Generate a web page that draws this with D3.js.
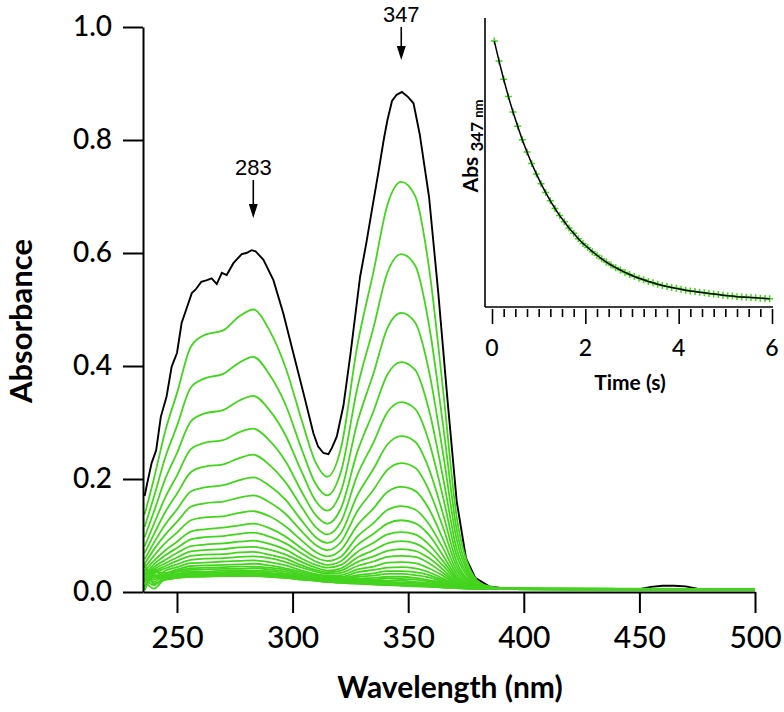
<!DOCTYPE html>
<html><head><meta charset="utf-8">
<script src="https://cdn.jsdelivr.net/npm/d3@7"></script>
<style>body{margin:0;background:#fff}svg{display:block}</style>
</head><body><svg id="c" width="784" height="712"></svg>
<script>
// ---------- main spectra data ----------
const blackWl  = [236,237,239,241,243,245.5,247.7,250,252,254,256.4,258,260.5,263,265,267.2,269.4,271.5,274.4,278,280,282.3,284,287.4,291.7,296,300.3,304.7,309,311,313.3,315.5,317,319.1,322,325,329.2,332,334.3,337,339.4,341,343,345,347.3,350,352.3,355,359,363,367,371,375,379,385,390,400,420,450,455,460,465,470,475,480,500];
const blackAbs = [0.17,0.19,0.228,0.251,0.31,0.346,0.399,0.423,0.476,0.50,0.529,0.535,0.549,0.552,0.555,0.545,0.565,0.561,0.582,0.598,0.600,0.605,0.603,0.588,0.552,0.493,0.423,0.352,0.281,0.258,0.246,0.244,0.255,0.275,0.33,0.42,0.558,0.62,0.676,0.74,0.80,0.835,0.869,0.88,0.885,0.876,0.865,0.81,0.70,0.53,0.34,0.16,0.06,0.025,0.01,0.007,0.006,0.005,0.005,0.009,0.011,0.011,0.010,0.006,0.005,0.005];

const greenWl = [236,240,245,250,256,262,270,277,283,290,297,304,310,315,321,328,335,341,347,353,359,365,371,377,383,390,500];
const greenCurves = [
 [.137,.200,.286,.352,.434,.455,.463,.488,.500,.463,.397,.303,.229,.204,.256,.436,.567,.685,.726,.701,.574,.361,.132,.038,.012,.007,.005],
 [.115,.168,.239,.294,.362,.378,.386,.406,.416,.385,.331,.252,.191,.171,.214,.361,.468,.565,.598,.578,.473,.298,.110,.032,.011,.006,.005],
 [.097,.142,.201,.246,.302,.316,.322,.339,.347,.322,.277,.212,.161,.144,.179,.300,.387,.467,.494,.477,.391,.247,.092,.028,.010,.006,.005],
 [.081,.120,.168,.206,.253,.264,.269,.283,.289,.268,.231,.177,.136,.121,.149,.248,.320,.385,.407,.393,.322,.204,.076,.024,.009,.006,.005],
 [.069,.102,.142,.174,.212,.222,.226,.237,.243,.225,.194,.150,.115,.102,.125,.207,.265,.318,.336,.324,.266,.169,.064,.021,.008,.006,.005],
 [.058,.087,.120,.146,.178,.185,.189,.198,.203,.188,.163,.126,.097,.087,.105,.171,.218,.261,.276,.266,.218,.139,.053,.018,.008,.006,.005],
 [.050,.075,.102,.124,.151,.157,.160,.167,.171,.159,.138,.107,.083,.074,.089,.143,.181,.216,.228,.220,.180,.115,.045,.016,.007,.005,.005],
 [.043,.064,.087,.105,.127,.132,.134,.140,.143,.134,.116,.091,.071,.063,.075,.118,.148,.177,.186,.179,.147,.094,.038,.014,.007,.005,.005],
 [.037,.055,.074,.089,.107,.111,.114,.118,.121,.113,.098,.077,.061,.055,.063,.098,.122,.145,.152,.146,.120,.078,.032,.012,.006,.005,.005],
 [.032,.049,.065,.078,.093,.097,.099,.103,.105,.098,.086,.068,.054,.048,.055,.083,.103,.121,.127,.122,.101,.065,.027,.011,.006,.005,.005],
 [.029,.044,.057,.069,.081,.084,.086,.089,.091,.085,.075,.059,.048,.043,.048,.071,.087,.102,.106,.102,.084,.055,.024,.010,.006,.005,.005],
 [.026,.040,.051,.061,.072,.074,.076,.079,.080,.075,.066,.053,.043,.038,.042,.061,.074,.086,.090,.086,.071,.047,.021,.010,.005,.005,.005],
 [.023,.036,.046,.055,.064,.066,.067,.070,.071,.066,.059,.047,.039,.035,.038,.053,.063,.073,.076,.073,.060,.040,.018,.009,.005,.005,.005],
 [.021,.033,.042,.049,.057,.059,.060,.062,.063,.060,.053,.043,.036,.032,.034,.046,.054,.062,.064,.062,.051,.034,.016,.008,.005,.005,.004],
 [.030,.022,.038,.044,.051,.052,.054,.055,.056,.053,.047,.038,.032,.029,.030,.040,.045,.052,.053,.051,.042,.029,.014,.008,.005,.005,.004],
 [.008,.035,.034,.040,.046,.047,.048,.049,.050,.047,.042,.035,.030,.027,.027,.035,.039,.043,.044,.042,.035,.024,.013,.007,.005,.005,.004],
 [.040,.018,.032,.037,.042,.043,.044,.045,.045,.043,.039,.032,.028,.025,.025,.030,.033,.037,.037,.035,.030,.021,.012,.007,.005,.005,.004],
 [.005,.030,.030,.035,.039,.040,.041,.041,.042,.040,.036,.030,.026,.023,.023,.027,.029,.032,.032,.030,.026,.018,.011,.007,.005,.005,.004],
 [.025,.012,.028,.032,.036,.036,.038,.038,.038,.037,.033,.028,.025,.022,.021,.024,.025,.027,.027,.025,.021,.016,.010,.007,.005,.005,.004],
 [.045,.028,.027,.031,.034,.034,.035,.036,.036,.034,.031,.027,.024,.021,.020,.022,.022,.024,.023,.022,.019,.014,.009,.006,.005,.005,.004],
 [.010,.038,.025,.029,.032,.032,.033,.034,.034,.032,.030,.025,.023,.020,.019,.020,.020,.020,.020,.018,.016,.012,.008,.006,.005,.005,.004],
 [.020,.006,.024,.028,.030,.031,.032,.032,.032,.031,.028,.024,.022,.019,.018,.019,.018,.018,.017,.016,.014,.011,.008,.006,.005,.005,.004],
 [.035,.025,.024,.027,.029,.030,.031,.031,.031,.030,.027,.024,.021,.019,.017,.018,.016,.016,.015,.014,.012,.010,.008,.006,.005,.005,.004],
 [.003,.030,.023,.026,.028,.028,.029,.029,.029,.028,.026,.023,.020,.018,.017,.016,.014,.014,.013,.012,.010,.009,.007,.006,.005,.005,.004],
 [.050,.015,.022,.025,.027,.028,.028,.029,.029,.027,.025,.022,.020,.018,.016,.015,.014,.013,.012,.011,.010,.008,.007,.006,.005,.005,.004],
 [.018,.040,.022,.025,.027,.027,.028,.028,.028,.027,.025,.022,.020,.018,.016,.015,.013,.012,.011,.010,.009,.008,.007,.006,.005,.005,.004]
];

const xTicks = [250,300,350,400,450,500];
const yTicks = [0.0,0.2,0.4,0.6,0.8,1.0];
const peakWl = [283,347];
const peakLabels = ["283","347"];

// ---------- inset kinetic trace ----------
const decayTime = [0.05,0.15,0.25,0.35,0.45,0.55,0.65,0.75,0.85,0.95,1.05,1.15,1.25,1.35,1.45,1.55,1.65,1.75,1.85,1.95,2.05,2.15,2.25,2.35,2.45,2.55,2.65,2.75,2.85,2.95,3.05,3.15,3.25,3.35,3.45,3.55,3.65,3.75,3.85,3.95,4.05,4.15,4.25,4.35,4.45,4.55,4.65,4.75,4.85,4.95,5.05,5.15,5.25,5.35,5.45,5.55,5.65,5.75,5.85,5.95];
const decayAbs  = [0.880,0.813,0.751,0.693,0.640,0.592,0.546,0.505,0.466,0.431,0.398,0.368,0.340,0.314,0.290,0.269,0.248,0.230,0.212,0.196,0.182,0.168,0.156,0.144,0.133,0.123,0.114,0.106,0.098,0.091,0.084,0.078,0.073,0.067,0.063,0.058,0.054,0.050,0.047,0.044,0.041,0.038,0.035,0.033,0.031,0.029,0.027,0.025,0.023,0.021,0.019,0.018,0.016,0.015,0.014,0.013,0.012,0.011,0.010,0.009];
const insetXTicks = [0,2,4,6];

// ---------- drawing ----------
const svg = d3.select("#c");
const GREEN = "#44d41e";
const FONT = "Lato, 'DejaVu Sans', sans-serif";

const x = d3.scaleLinear().domain([235.3,500]).range([143,755]);
const y = d3.scaleLinear().domain([0,1]).range([592,27]);

// black spectrum first
svg.append("path")
  .attr("d", d3.line()(blackWl.map((w,i)=>[x(w), y(blackAbs[i])])))
  .attr("fill","none").attr("stroke","#000").attr("stroke-width",1.9);

// green spectra
const gLine = d3.line().curve(d3.curveMonotoneX);
svg.append("g").selectAll("path").data(greenCurves).join("path")
  .attr("d", c => gLine(greenWl.map((w,i)=>[x(w), y(c[i])])))
  .attr("fill","none").attr("stroke",GREEN).attr("stroke-width",1.8);

// axes
const yAxis = d3.axisLeft(y).tickValues(yTicks).tickSize(20).tickSizeOuter(0).tickPadding(11).tickFormat(d3.format(".1f"));
const gy = svg.append("g").attr("transform","translate(143,0)").call(yAxis);
const xAxis = d3.axisBottom(x).tickValues(xTicks).tickSize(21).tickSizeOuter(0).tickPadding(14).tickFormat(d3.format("d"));
const gx = svg.append("g").attr("transform","translate(0,592)").call(xAxis);
[gy,gx].forEach(g=>{
  g.select(".domain").attr("stroke","#000").attr("stroke-width",2);
  g.selectAll(".tick line").attr("stroke","#000").attr("stroke-width",2);
  g.selectAll(".tick text").attr("fill","#000").attr("font-family",FONT).attr("font-weight",500);
});
gy.selectAll(".tick text").attr("font-size",28);
gx.selectAll(".tick text").attr("font-size",30);

svg.append("text").attr("transform","translate(32,321) rotate(-90)")
  .attr("text-anchor","middle").attr("font-family",FONT).attr("font-weight",700)
  .attr("font-size",31).text("Absorbance");
svg.append("text").attr("x",450).attr("y",698)
  .attr("text-anchor","middle").attr("font-family",FONT).attr("font-weight",700)
  .attr("font-size",30).text("Wavelength (nm)");

// peak annotations
const peakLabelY = [175, 22];
const arrowTop = [180, 27];
const arrowTip = [218, 60];
peakWl.forEach((w,i)=>{
  const px = x(w);
  svg.append("text").attr("x",px).attr("y",peakLabelY[i]).attr("text-anchor","middle")
    .attr("font-family","'Liberation Sans', Arial, sans-serif").attr("font-size",22).text(peakLabels[i]);
  svg.append("line").attr("x1",px).attr("x2",px).attr("y1",arrowTop[i]).attr("y2",arrowTip[i]-8)
    .attr("stroke","#000").attr("stroke-width",1.6);
  svg.append("path").attr("d",`M${px-4.5},${arrowTip[i]-14}L${px+4.5},${arrowTip[i]-14}L${px},${arrowTip[i]}Z`).attr("fill","#000");
});

// ---------- inset ----------
const ix = d3.scaleLinear().domain([0,6]).range([492,772]);
const iy = d3.scaleLinear().domain([-0.019,0.958]).range([307,18]);
const inset = svg.append("g");
inset.append("line").attr("x1",485).attr("x2",485).attr("y1",18).attr("y2",307).attr("stroke","#000").attr("stroke-width",1.6);
inset.append("line").attr("x1",485).attr("x2",773).attr("y1",307).attr("y2",307).attr("stroke","#000").attr("stroke-width",1.6);
const ixAxis = d3.axisBottom(ix).tickValues(d3.range(0,6.001,0.25)).tickSize(8).tickSizeOuter(0).tickFormat("");
const gix = inset.append("g").attr("transform","translate(0,309)").call(ixAxis);
gix.select(".domain").remove();
gix.selectAll(".tick line").attr("stroke","#000").attr("stroke-width",1.6)
  .attr("y2", d => insetXTicks.includes(d) ? 15 : 8);
inset.append("g").selectAll("text").data(insetXTicks).join("text")
  .attr("x",d=>ix(d)).attr("y",356).attr("text-anchor","middle")
  .attr("font-family",FONT).attr("font-weight",500).attr("font-size",23).text(d=>d);
inset.append("text").attr("x",630).attr("y",390).attr("text-anchor","middle")
  .attr("font-family",FONT).attr("font-weight",700).attr("font-size",21).text("Time (s)");
const yl = inset.append("text").attr("transform","translate(478,146) rotate(-90)")
  .attr("text-anchor","middle").attr("font-family",FONT).attr("font-weight",700).attr("font-size",21);
yl.append("tspan").text("Abs ");
yl.append("tspan").attr("font-size",17).attr("dy",5).text("347 ");
yl.append("tspan").attr("font-size",13).text("nm");

// data crosses
const cross = inset.append("g").attr("stroke",GREEN).attr("stroke-width",1.5);
decayTime.forEach((t,i)=>{
  const cx = ix(t), cy = iy(decayAbs[i]);
  cross.append("path").attr("d",`M${cx-3.5},${cy}H${cx+3.5}M${cx},${cy-3.5}V${cy+3.5}`);
});
// fit line
inset.append("path")
  .attr("d", d3.line()(decayTime.map((t,i)=>[ix(t), iy(decayAbs[i])])))
  .attr("fill","none").attr("stroke","#000").attr("stroke-width",1.5);
</script></body></html>
